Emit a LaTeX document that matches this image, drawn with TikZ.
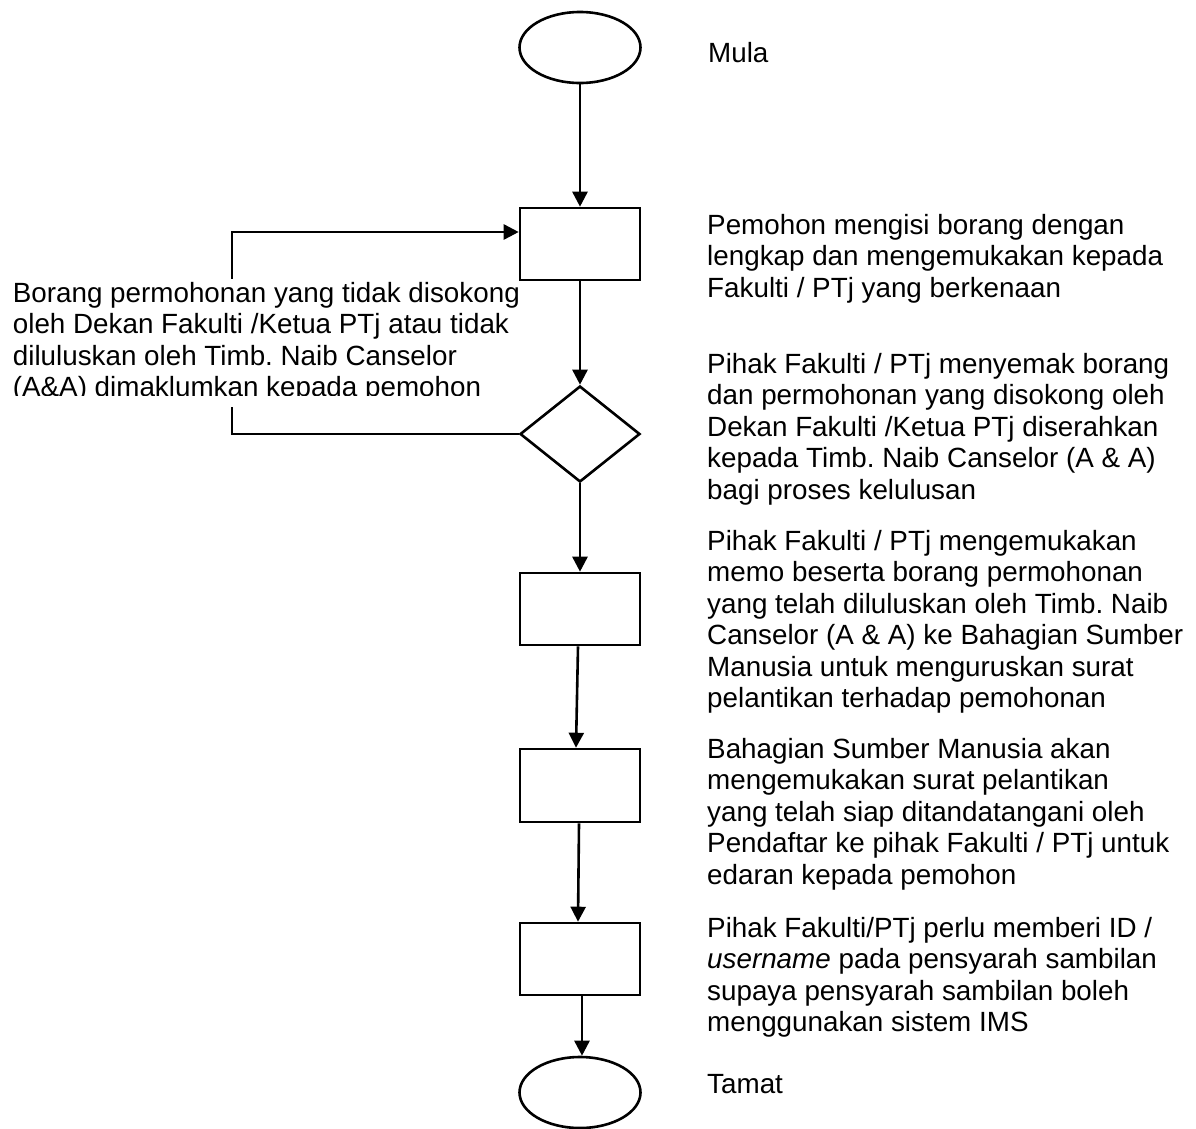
\documentclass[tikz,border=0pt]{standalone}
\usepackage{fontspec}
\setmainfont{Liberation Sans}
\usetikzlibrary{shapes.geometric,arrows.meta}
\frenchspacing
\begin{document}
\begin{tikzpicture}[x=1pt,y=-1pt,
  lw/.style={line width=2.6pt},
  term/.style={draw,lw,ellipse,minimum width=121pt,minimum height=71pt,inner sep=0pt},
  procbox/.style={draw,lw,rectangle,minimum width=120pt,minimum height=72pt,inner sep=0pt},
  decbox/.style={draw,lw,diamond,minimum width=120pt,minimum height=96pt,inner sep=0pt},
  arr/.style={lw,-{Triangle[length=15pt,width=15pt]}},
  lbl/.style={anchor=base west,inner sep=0pt,font=\fontsize{27.8}{31.5}\selectfont},
]
\useasboundingbox (0,0) rectangle (1196,1128);
\fill[white] (0,0) rectangle (1196,1128);

% shapes
\node[term]    (start) at (580,47.5) {};
\node[procbox] (r1)    at (580,244)  {};
\node[decbox]  (dec)   at (580,434)  {};
\node[procbox] (r2)    at (580,609)  {};
\node[procbox,minimum height=73pt] (r3) at (580,785.5) {};
\node[procbox] (r4)    at (580,959)  {};
\node[term]    (stop)  at (580,1092.5) {};

% connectors
\draw[arr] (start.south) -- (r1.north);
\draw[arr] (r1.south) -- (dec.north);
\draw[arr] (dec.south) -- (r2.north);
\draw[arr] ([xshift=-2pt]r2.south) -- ([xshift=-4pt]r3.north);
\draw[arr] ([xshift=-1pt]r3.south) -- ([xshift=-2pt]r4.north);
\draw[arr] ([xshift=2pt]r4.south) -- ([xshift=2pt]stop.north);
\coordinate (loopc) at (232,434);
\draw[arr] (dec.west) -- (loopc) |- ([yshift=12pt]r1.west);

% left text box (white background, clipped)
\fill[white] (5,279) rectangle (516,407);
\begin{scope}
\clip (0,279) rectangle (540,395);
\node[lbl] (ltext) at (12.7,302) {\parbox[t]{520pt}{\raggedright
Borang permohonan yang tidak disokong\\
oleh Dekan Fakulti /Ketua PTj atau tidak\\
diluluskan oleh Timb. Naib Canselor\\
(A\&A) dimaklumkan kepada pemohon}};
\end{scope}

% right texts
\node[lbl] (tmula) at (708,62) {Mula};
\node[lbl] (t1) at (707,234) {\parbox[t]{489pt}{\raggedright
Pemohon mengisi borang dengan\\
lengkap dan mengemukakan kepada\\
Fakulti / PTj yang berkenaan}};
\node[lbl] (t2) at (707,373) {\parbox[t]{489pt}{\raggedright
Pihak Fakulti / PTj menyemak borang\\
dan permohonan yang disokong oleh\\
Dekan Fakulti /Ketua PTj diserahkan\\
kepada Timb. Naib Canselor (A \& A)\\
bagi proses kelulusan}};
\node[lbl] (t3) at (707,550) {\parbox[t]{489pt}{\raggedright
Pihak Fakulti / PTj mengemukakan\\
memo beserta borang permohonan\\
yang telah diluluskan oleh Timb. Naib\\
Canselor (A \& A) ke Bahagian Sumber\\
Manusia untuk menguruskan surat\\
pelantikan terhadap pemohonan}};
\node[lbl] (t4) at (707,758) {\parbox[t]{489pt}{\raggedright
Bahagian Sumber Manusia akan\\
mengemukakan surat pelantikan\\
yang telah siap ditandatangani oleh\\
Pendaftar ke pihak Fakulti / PTj untuk\\
edaran kepada pemohon}};
\node[lbl] (t5) at (707,937) {\parbox[t]{489pt}{\raggedright
Pihak Fakulti/PTj perlu memberi ID /\\
\textit{username} pada pensyarah sambilan\\
supaya pensyarah sambilan boleh\\
menggunakan sistem IMS}};
\node[lbl] (ttamat) at (707,1093) {Tamat};
\end{tikzpicture}
\end{document}
